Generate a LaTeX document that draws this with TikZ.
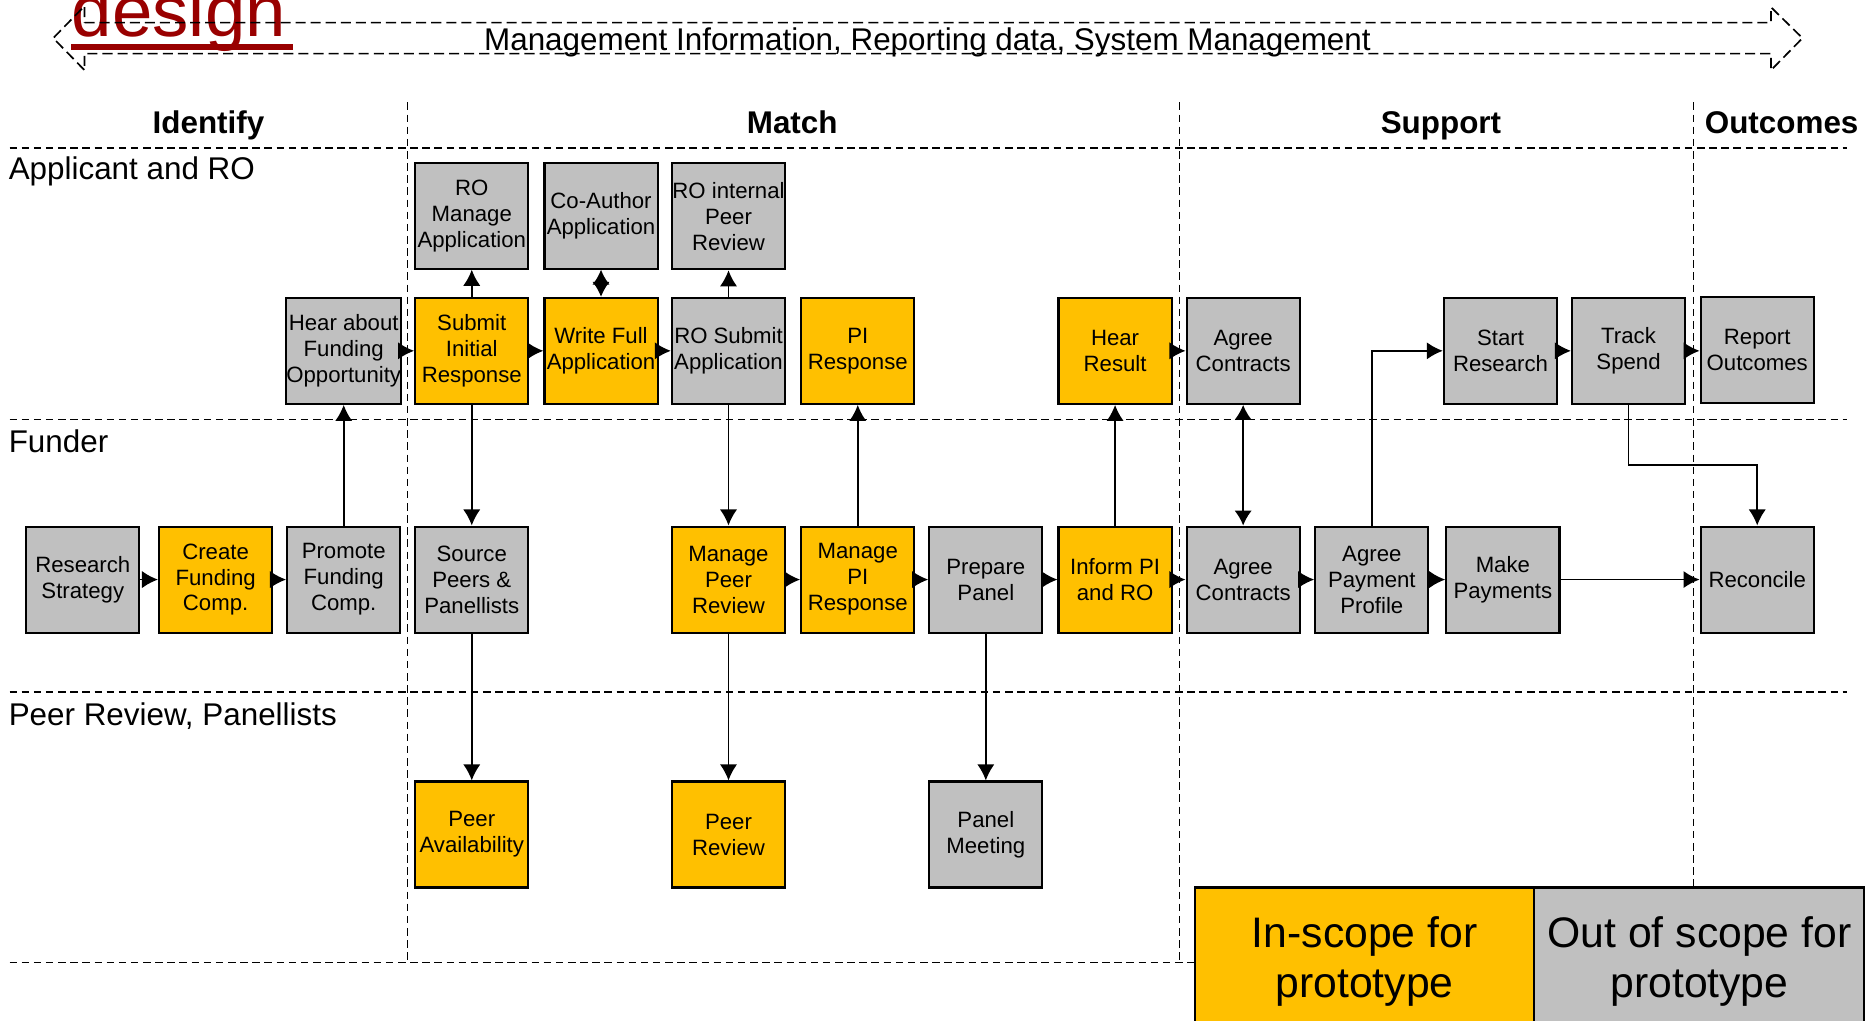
\documentclass[tikz,border=0pt]{standalone}
\usepackage{fontspec}
\setmainfont{Liberation Sans}
\usetikzlibrary{arrows.meta}
\definecolor{inscope}{HTML}{FFC000}
\definecolor{outscope}{HTML}{C0C0C0}
\definecolor{titlered}{HTML}{990000}
\begin{document}
\begin{tikzpicture}[x=0.02cm,y=-0.02cm,
  box/.style={draw=black, line width=1pt, minimum width=1.9cm, minimum height=1.78cm, inner sep=0pt, align=center, font=\fontsize{10.6}{12.4}\selectfont},
  yb/.style={box, fill=inscope},
  gb/.style={box, fill=outscope},
  tip/.style={},
  conn/.style={line width=0.85pt, -{Latex[length=0.27cm,width=0.29cm]}},
  both/.style={line width=0.85pt, {Latex[length=0.25cm,width=0.29cm]}-{Latex[length=0.25cm,width=0.29cm]}},
  lane/.style={draw=black, line width=0.8pt, dash pattern=on 3.6pt off 2.2pt},
  bigarrow/.style={draw=black, line width=0.8pt, dash pattern=on 4.8pt off 2.4pt},
  hdr/.style={font=\fontsize{15}{18}\selectfont\bfseries, anchor=base, inner sep=0pt},
  lanelbl/.style={font=\fontsize{15}{18}\selectfont, anchor=base west, inner sep=0pt},
  legend/.style={font=\fontsize{20.4}{23.9}\selectfont, align=center, inner sep=0pt},
]
\useasboundingbox (0,0) rectangle (1568,857);

% title fragment
\node[font=\fontsize{34.7}{40}\selectfont, text=titlered, anchor=base west, inner sep=0pt] (ttl) at (60,31) {design};
\fill[titlered] (60,37) rectangle (246,42);

% top dashed double arrow
\draw[bigarrow] (71,19) -- (1486.5,19) -- (1486.5,6) -- (1513,32) -- (1486.5,59) -- (1486.5,45) -- (71,45) -- (71,59) -- (44.7,32) -- (71,5) -- cycle;
\node[font=\fontsize{15}{18}\selectfont, anchor=base, inner sep=0pt] (mis) at (778.5,42) {Management Information, Reporting data, System Management};

% lanes
\draw[lane] (8,124) -- (1550,124);
\draw[lane] (8,352) -- (1550,352);
\draw[lane] (8,581) -- (1550,581);
\draw[lane] (8,808) -- (1003,808);
\draw[lane] (342,86) -- (342,808);
\draw[lane] (990,86) -- (990,808);
\draw[lane] (1421.5,86) -- (1421.5,745);

% headers
\node[hdr] (hid) at (175,112) {Identify};
\node[hdr] (hma) at (665,112) {Match};
\node[hdr] (hsu) at (1209.5,112) {Support};
\node[hdr] (hou) at (1495.5,112) {Outcomes};

\node[lanelbl] (lapp) at (7,151) {Applicant and RO};
\node[lanelbl] (lfun) at (7,380) {Funder};
\node[lanelbl] (lpeer) at (7,609) {Peer Review, Panellists};

% boxes
\node[gb] (rs)  at (69.5,486.5)  {Research\\Strategy};
\node[yb] (cf)  at (181,486.5)   {Create\\Funding\\Comp.};
\node[gb] (pf)  at (288.5,486.5) {Promote\\Funding\\Comp.};
\node[gb] (ha)  at (288.5,294.5) {Hear about\\Funding\\Opportunity};
\node[yb] (si)  at (396,294.5)   {Submit\\Initial\\Response};
\node[gb] (rom) at (396,181)     {RO\\Manage\\Application};
\node[gb] (sp)  at (396,486.5)   {Source\\Peers \&\\Panellists};
\node[yb] (pa)  at (396,700.5)   {Peer\\Availability};
\node[yb] (wf)  at (504.5,294.5) {Write Full\\Application};
\node[gb] (ca)  at (504.5,181)   {Co-Author\\Application};
\node[gb] (ros) at (611.5,294.5) {RO Submit\\Application};
\node[gb] (ri)  at (611.5,181.5) {RO internal\\Peer\\Review};
\node[yb] (mpr) at (611.5,486.5) {Manage\\Peer\\Review};
\node[yb] (pr)  at (611.5,700.5) {Peer\\Review};
\node[yb] (pir) at (720,294.5)   {PI\\Response};
\node[yb] (mpi) at (720,486.5)   {Manage\\PI\\Response};
\node[gb] (pp)  at (827.5,486.5) {Prepare\\Panel};
\node[gb] (pm)  at (827.5,700.5) {Panel\\Meeting};
\node[yb] (hr)  at (936,294.5)   {Hear\\Result};
\node[yb] (ipr) at (936,486.5)   {Inform PI\\and RO};
\node[gb] (aca) at (1043.5,294.5) {Agree\\Contracts};
\node[gb] (acf) at (1043.5,486.5) {Agree\\Contracts};
\node[gb] (app) at (1151.5,486.5) {Agree\\Payment\\Profile};
\node[gb] (str) at (1259.5,294.5) {Start\\Research};
\node[gb] (mp)  at (1261.5,486.5) {Make\\Payments};
\node[gb] (ts)  at (1367,294.5)   {Track\\Spend};
\node[gb] (ro)  at (1475,293.5)   {Report\\Outcomes};
\node[gb] (rec) at (1475,486.5)   {Reconcile};

% connectors
\draw[conn] (rs) -- (cf);
\draw[conn] (cf) -- (pf);
\draw[conn] (pf) -- (ha);
\draw[conn] (ha) -- (si);
\draw[conn] (si) -- (rom);
\draw[conn] (si) -- (sp);
\draw[conn] (si) -- (wf);
\draw[both] (wf) -- (ca);
\draw[conn] (wf) -- (ros);
\draw[conn] (ros) -- (ri);
\draw[conn] (ros) -- (mpr);
\draw[conn] (sp) -- (pa);
\draw[conn] (mpr) -- (pr);
\draw[conn] (mpr) -- (mpi);
\draw[conn] (mpi) -- (pir);
\draw[conn] (mpi) -- (pp);
\draw[conn] (pp) -- (pm);
\draw[conn] (pp) -- (ipr);
\draw[conn] (ipr) -- (hr);
\draw[conn] (ipr) -- (acf);
\draw[conn] (hr) -- (aca);
\draw[both] (aca) -- (acf);
\draw[conn] (acf) -- (app);
\draw[conn] (app) -- (mp);
\draw[conn] (app.north) |- (str.west);
\draw[conn] (str) -- (ts);
\draw[conn] (ts.east) -- (ts.east -| ro.west);
\draw[conn] (ts.south) -- ++(0,50.5) -| (rec.north);
\draw[conn] (mp) -- (rec);

% legend
\filldraw[fill=inscope, draw=black, line width=1pt] (1003,745) rectangle (1288,880);
\filldraw[fill=outscope, draw=black, line width=1pt] (1288,745) rectangle (1565,880);
\node[legend] (lin) at (1145.5,807) {In-scope for\\prototype};
\node[legend] (lout) at (1426.5,807) {Out of scope for\\prototype};
\end{tikzpicture}
\end{document}
